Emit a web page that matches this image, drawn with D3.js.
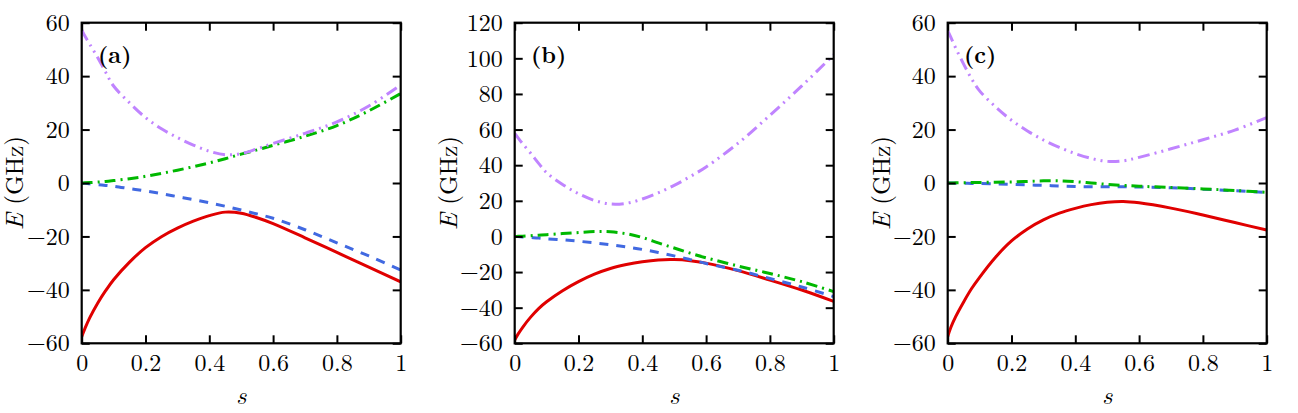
<!DOCTYPE html>
<html><head><meta charset="utf-8">
<script src="https://cdn.jsdelivr.net/npm/d3@7"></script>
</head>
<body style="margin:0;background:#fff"><svg id="chart" width="1298" height="413"></svg>
<script>
// ---- data ----
const sGrid = [0, 0.01, 0.025, 0.05, 0.075, 0.1, 0.15, 0.2, 0.25, 0.3, 0.35, 0.4, 0.45, 0.5, 0.55, 0.6, 0.7, 0.8, 0.9, 1.0];
const panelLabels = ["(a)", "(b)", "(c)"];
const xTicks = [0, 0.2, 0.4, 0.6, 0.8, 1];
const yTicksA = [-60, -40, -20, 0, 20, 40, 60];
const yTicksB = [-60, -40, -20, 0, 20, 40, 60, 80, 100, 120];
const yTicksC = [-60, -40, -20, 0, 20, 40, 60];

const redA    = [-57.5,-54.5,-50.5,-45,-40.3,-36.2,-29.6,-24.2,-20.1,-16.9,-14.3,-12.2,-10.9,-11.3,-13,-15.2,-20.5,-26,-31.5,-37];
const blueA   = [0,-0.1,-0.3,-0.6,-0.9,-1.2,-2.1,-3,-4,-5.1,-6.2,-7.4,-8.7,-10.1,-11.6,-13.2,-17.5,-22.4,-27.3,-32.6];
const greenA  = [0,0.05,0.15,0.35,0.6,0.9,1.6,2.5,3.6,4.8,6.1,7.5,9.1,10.8,12.4,14.1,17.5,21.5,27,33.5];
const purpleA = [57.3,55,52,47,41.5,36.3,30,24.5,20.3,17,14.2,11.9,10.6,11,12.8,14.8,18.6,22.9,28.8,36.7];

const redB    = [-58.2,-55,-51,-45.3,-40.5,-36.7,-30.5,-25.4,-21.2,-18,-15.8,-14.2,-13.2,-13,-13.6,-15,-19.2,-24.5,-30.1,-36.5];
const blueB   = [0,-0.1,-0.3,-0.6,-0.9,-1.3,-1.9,-2.7,-3.6,-4.7,-5.9,-7.3,-9,-10.9,-13,-15.2,-19,-23.6,-28.4,-33.8];
const greenB  = [0,0.05,0.15,0.4,0.7,1.0,1.6,2.2,2.7,2.6,1.5,-0.6,-3.6,-6.5,-9.4,-12,-16.6,-20.8,-25.4,-31];
const purpleB = [57.9,55.5,52,46.7,41,35.8,29.2,24,20.2,18.2,18.6,21,24.5,28.7,33.6,39,52.3,68,84.5,102];

const redC    = [-57.5,-54,-50,-44.5,-39.5,-35.3,-27.8,-21.7,-17.2,-13.8,-11.3,-9.5,-8.1,-7.2,-6.9,-7.4,-9.4,-12,-14.8,-17.6];
const blueC   = [0,0,-0.05,-0.1,-0.15,-0.2,-0.35,-0.5,-0.7,-0.9,-1.1,-1.3,-1.4,-1.4,-1.4,-1.5,-1.8,-2.3,-2.9,-3.5];
const greenC  = [0,0,0.05,0.1,0.15,0.2,0.3,0.4,0.6,0.8,0.8,0.5,0,-0.5,-0.9,-1.2,-1.7,-2.2,-2.8,-3.5];
const purpleC = [57,54.5,50.5,44.5,39,34.5,28.5,23.5,19.5,16.1,13.3,11,9.2,8.1,8.3,9.6,12.8,16.2,19.8,24.5];

const seriesStyles = [
  {key:"red",    color:"#e00000", dash:null},
  {key:"blue",   color:"#4169e1", dash:"9,8"},
  {key:"green",  color:"#00b800", dash:"11,5,2,5"},
  {key:"purple", color:"#c084ff", dash:"12,5,2,5,2,5"}
];

const panels = [
  {label:panelLabels[0], yDomain:[-60,60],  yTicks:yTicksA, series:{red:redA, blue:blueA, green:greenA, purple:purpleA}},
  {label:panelLabels[1], yDomain:[-60,120], yTicks:yTicksB, series:{red:redB, blue:blueB, green:greenB, purple:purpleB}},
  {label:panelLabels[2], yDomain:[-60,60],  yTicks:yTicksC, series:{red:redC, blue:blueC, green:greenC, purple:purpleC}}
];

// ---- layout ----
const FONT = '"Latin Modern Roman","CMU Serif","Liberation Serif",serif';
const svg = d3.select("#chart").attr("font-family", FONT);
const lefts = [81.7, 514.7, 947.7];
const plotTop = 22.7, W = 319, H = 320.6;
const fmt = d => d < 0 ? "\u2212" + Math.abs(d) : String(d);

panels.forEach((p, i) => {
  const g = svg.append("g").attr("transform", `translate(${lefts[i]},${plotTop})`);
  const x = d3.scaleLinear().domain([0,1]).range([0,W]);
  const y = d3.scaleLinear().domain(p.yDomain).range([H,0]);

  g.append("clipPath").attr("id","clip"+i).append("rect").attr("width",W).attr("height",H);

  const line = d3.line().x((d,j)=>x(sGrid[j])).y(d=>y(d)).curve(d3.curveCatmullRom.alpha(0.5));
  const lines = g.append("g").attr("clip-path",`url(#clip${i})`);
  seriesStyles.forEach(st => {
    lines.append("path").datum(p.series[st.key])
      .attr("d", line).attr("fill","none")
      .attr("stroke", st.color).attr("stroke-width", 3)
      .attr("stroke-dasharray", st.dash);
  });

  // axes with inward ticks on all sides
  const tl = 8;
  const bottomAx = d3.axisBottom(x).tickValues(xTicks).tickSize(-tl).tickPadding(14).tickFormat(d=>String(d));
  const topAx = d3.axisTop(x).tickValues(xTicks).tickSize(-tl).tickFormat("");
  const leftAx = d3.axisLeft(y).tickValues(p.yTicks).tickSize(-tl).tickPadding(12).tickFormat(fmt);
  const rightAx = d3.axisRight(y).tickValues(p.yTicks).tickSize(-tl).tickFormat("");

  const axB = g.append("g").attr("transform",`translate(0,${H})`).call(bottomAx);
  const axT = g.append("g").call(topAx);
  const axL = g.append("g").call(leftAx);
  const axR = g.append("g").attr("transform",`translate(${W},0)`).call(rightAx);
  [axB,axT,axL,axR].forEach(a => {
    a.attr("font-family", FONT).attr("font-size", 24);
    a.select(".domain").remove();
    a.selectAll(".tick line").attr("stroke","#000").attr("stroke-width",2);
    a.selectAll("text").attr("fill","#000");
  });
  axB.selectAll("text").attr("dy","0.71em").attr("y", 10.5);

  g.append("rect").attr("width",W).attr("height",H).attr("fill","none").attr("stroke","#000").attr("stroke-width",2.2);

  // panel label
  g.append("text").attr("x",16.3).attr("y",40.6).attr("font-family",FONT)
    .attr("font-size",23).attr("font-weight","bold").text(p.label);

  // axis labels
  g.append("text").attr("x",W/2).attr("y",381).attr("text-anchor","middle").attr("font-family",FONT)
    .attr("font-size",25.5).attr("font-style","italic").text("s");
  const yl = g.append("text").attr("transform",`translate(-58.2,${H/2}) rotate(-90)`)
    .attr("text-anchor","middle").attr("font-family",FONT).attr("font-size",25);
  yl.append("tspan").attr("font-style","italic").text("E");
  yl.append("tspan").text(" (GHz)");
});
</script></body></html>
